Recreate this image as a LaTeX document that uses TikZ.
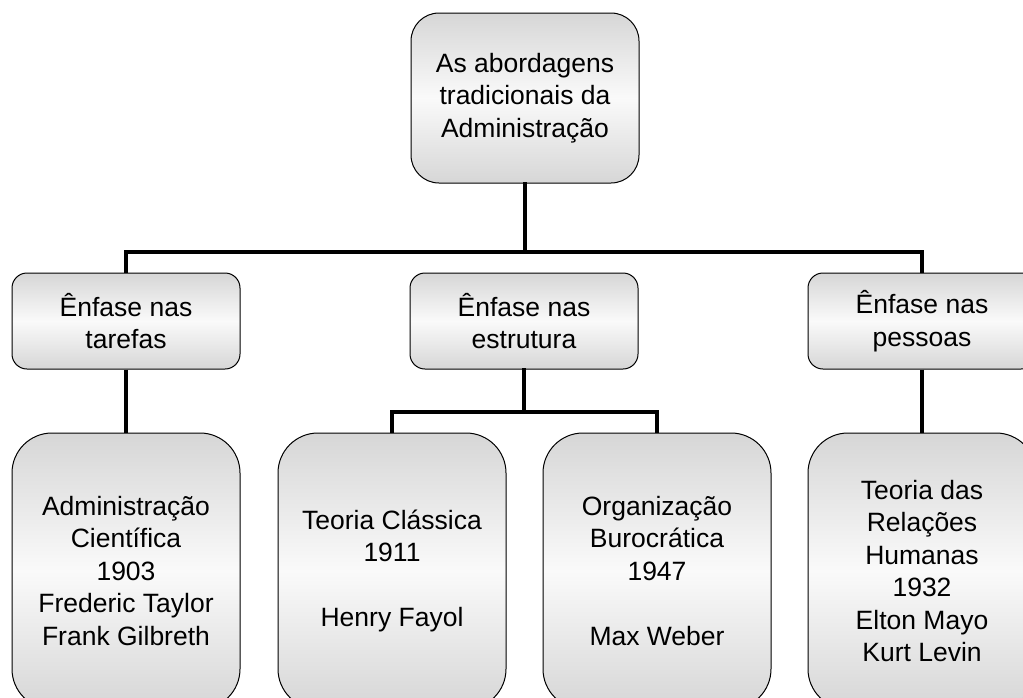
\documentclass[tikz,border=0pt]{standalone}
\usepackage{fontspec}
\setmainfont{Liberation Sans}
\begin{document}
\begin{tikzpicture}[x=1pt,y=-1pt,
  boxbase/.style={draw=black,line width=1pt,top color=black!16,bottom color=black!16,middle color=black!2,
    align=center,inner sep=0pt,minimum width=228pt,font=\fontsize{26.5}{32.5}\selectfont},
  topbox/.style={boxbase,minimum height=170pt,rounded corners=28pt},
  midbox/.style={boxbase,minimum height=96pt,rounded corners=15pt},
  botbox/.style={boxbase,minimum height=276pt,rounded corners=40pt},
  conn/.style={line width=3.5pt,line cap=rect}]
\useasboundingbox (0,0) rectangle (1023,697);
\clip (0,0) rectangle (1023,697);
\coordinate (bus1) at (525,252);
\coordinate (bus2) at (524,412);
\node[topbox] (top) at (525,98) {As abordagens\\tradicionais da\\Administração};
\node[midbox] (m1) at (126,321) {Ênfase nas\\tarefas};
\node[midbox] (m2) at (524,321) {Ênfase nas\\estrutura};
\node[midbox] (m3) at (922,321) {Ênfase nas\\pessoas};
\node[botbox] (b1) at (126,571) {Administração\\Científica\\1903\\Frederic Taylor\\Frank Gilbreth};
\node[botbox] (b2) at (392,571) {Teoria Clássica\\1911\\[32.5pt]Henry Fayol};
\node[botbox] (b3) at (657,571) {Organização\\Burocrática\\1947\\[32.5pt]Max Weber};
\node[botbox] (b4) at (922,571) {Teoria das\\Relações\\Humanas\\1932\\Elton Mayo\\Kurt Levin};
\draw[conn] (top.south) -- (bus1);
\draw[conn,line cap=butt] (m1.north) |- (bus1) -| (m3.north);
\draw[conn,line cap=butt] (m1.south) -- (b1.north);
\draw[conn,line cap=butt] (m3.south) -- (b4.north);
\draw[conn] (m2.south) -- (bus2);
\draw[conn,line cap=butt] (b2.north) |- (bus2) -| (b3.north);
\end{tikzpicture}
\end{document}
